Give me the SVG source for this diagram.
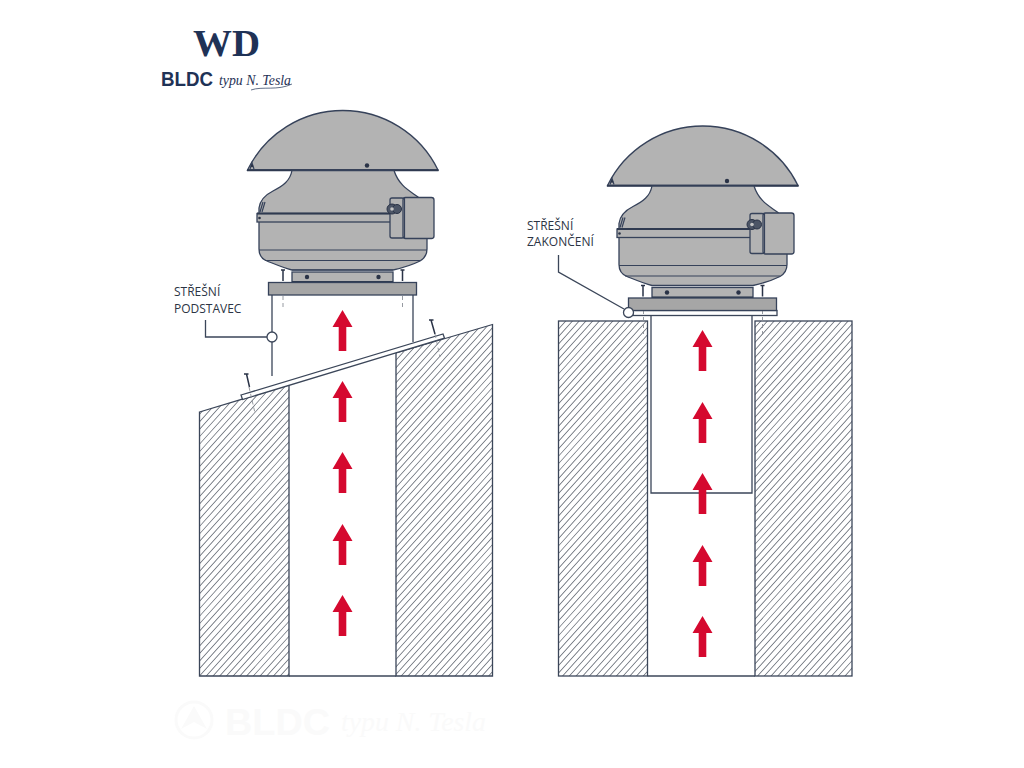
<svg xmlns="http://www.w3.org/2000/svg" width="1024" height="768" viewBox="0 0 1024 768">
<style>
.o{stroke:#3b4659;stroke-width:1.3;fill:none}
.w{stroke:#3b4659;stroke-width:1.3;fill:#fff}
.hs{fill:none;stroke:#666c76;stroke-width:900;stroke-dasharray:.8 4.200}
.g{fill:#b3b3b3;stroke:#36425a;stroke-width:1.300}
.gd{fill:#a6a6a6;stroke:#36425a;stroke-width:1.300}
.l{fill:none;stroke:#36425a;stroke-width:1.200}
.t{fill:none;stroke:#2f3a50;stroke-width:2}
.k{fill:#2a3347}
.d{fill:none;stroke:#8a8f96;stroke-width:.9;stroke-dasharray:4 3}
.lab{font-family:"Open Sans","Liberation Sans",sans-serif;font-size:12px;fill:#2c3444}
.wm{fill:#fafafa}
</style>
<defs>
<clipPath id="walls">
<path d="M199.500 412L289 385V676H199.500Z"/>
<path d="M396 353L492.500 324.500V676H396Z"/>
<rect x="558.500" y="321" width="89" height="355"/>
<rect x="755" y="321" width="97" height="355"/>
</clipPath>
<path id="arrow" d="M0 0L10 17H3.800V41H-3.800V17H-10Z" fill="#d5092f"/>
<g id="screw">
<path d="M-2 0H2M0 0V11" fill="none" stroke="#2a3347" stroke-width="1.500"/>
</g>
<g id="fan">
<path class="g" d="M247.500 170A106 106 0 0 1 438 170Z"/>
<path class="t" d="M247 170.200H438.500"/>
<circle class="k" cx="367" cy="165.500" r="2.200"/>
<path class="l" d="M250 169L252 163L254 169"/>
<circle class="k" cx="252" cy="166" r="1.200"/>
<path class="g" d="M292 170.500C290 181 283 186 273 191C265 195 260 200 259 208V249C259 255 262 259 267 261C277 265 284 268 292 270H393C402 268 412 265 420 261C425 258 427 254 427 249V222L418 197C410 191 399 186 394 170.500Z"/>
<path class="l" d="M259 250H427M265 260.500H420M292 270H393"/>
<rect class="g" x="257" y="213.500" width="134" height="8.500"/>
<path class="t" d="M257 213.500H391"/>
<path class="l" d="M260 212L263 202M262 212L265 202"/>
<circle class="k" cx="259.500" cy="218" r="1.300"/>
<rect class="g" x="292" y="272" width="101" height="10"/>
<path class="t" d="M292 282H393"/>
<circle class="k" cx="307" cy="277" r="2.200"/>
<circle class="k" cx="378.500" cy="277" r="2.200"/>
<rect class="g" x="390" y="198" width="14" height="40" rx="2"/>
<rect class="g" x="403" y="197.500" width="31" height="41" rx="2.500" stroke-width="1.700"/>
<path class="l" d="M404.500 198V238"/>
<circle cx="392" cy="209" r="5" fill="#4c5566" stroke="#2a3347"/>
<circle cx="397" cy="209" r="4.500" fill="#4c5566" stroke="#2a3347"/>
<circle cx="392" cy="209" r="1.800" fill="#c5c5c5"/>
<use href="#screw" x="283" y="270"/>
<use href="#screw" x="402.500" y="270"/>
<rect class="gd" x="268.500" y="282.500" width="148" height="12.500"/>
</g>
</defs>
<rect width="1024" height="768" fill="#fff"/>

<g id="logo">
<text x="226.500" y="56" text-anchor="middle" font-family="'Liberation Serif',serif" font-weight="700" font-size="38" fill="#1f3256" textLength="67" lengthAdjust="spacingAndGlyphs">WD</text>
<text x="161" y="86" font-family="'Liberation Sans',sans-serif" font-weight="700" font-size="19.500" fill="#1f3256" textLength="52" lengthAdjust="spacingAndGlyphs">BLDC</text>
<text x="219" y="85" font-family="'Liberation Serif',serif" font-style="italic" font-size="14" fill="#1f3256" textLength="72" lengthAdjust="spacingAndGlyphs">typu N. Tesla</text>
<path d="M251 90C262 86 278 91 292 84" fill="none" stroke="#1f3256" stroke-width=".7"/>
</g>

<g id="watermark">
<circle cx="194" cy="720" r="18" fill="none" stroke="#fafafa" stroke-width="3"/>
<path class="wm" d="M194 706L207 729L194 722L181 729Z"/>
<text x="225" y="735" font-family="'Liberation Sans',sans-serif" font-weight="700" font-size="37" class="wm" textLength="105" lengthAdjust="spacingAndGlyphs">BLDC</text>
<text x="341" y="731" font-family="'Liberation Serif',serif" font-style="italic" font-size="27" class="wm" textLength="145" lengthAdjust="spacingAndGlyphs">typu N. Tesla</text>
</g>

<g id="hatching" clip-path="url(#walls)">
<path class="hs" d="M79 99L971 901"/>
</g>
<g id="left-roof">
<path class="o" d="M199.500 412L289 385V676H199.500Z"/>
<path class="o" d="M396 353L492.500 324.500V676H396Z"/>
<path class="o" d="M289 676H396"/>
</g>
<g id="left-base">
<path class="o" d="M272 295V376M413 295V342"/>
<path class="w" d="M241 395L443 334L444.500 338L242.500 399.500Z"/>
<path class="d" d="M283 282V308M402.500 282V308M249 387L255 413M435 334L440 357"/>
<path d="M244 374H248.500M246.500 374L249.500 387M429 320H433.500M431 320L435 334" fill="none" stroke="#2a3347" stroke-width="1.500"/>
</g>
<use id="left-fan" href="#fan"/>
<g id="left-arrows">
<use href="#arrow" x="342.500" y="310"/>
<use href="#arrow" x="342.500" y="381"/>
<use href="#arrow" x="342.500" y="452"/>
<use href="#arrow" x="342.500" y="524"/>
<use href="#arrow" x="342.500" y="595"/>
</g>
<g id="left-label">
<text class="lab" x="174" y="295.500">STŘEŠNÍ</text>
<text class="lab" x="174" y="312.500">PODSTAVEC</text>
</g>

<g id="right-roof">
<rect class="o" x="558.500" y="321" width="89" height="355"/>
<rect class="o" x="755" y="321" width="97" height="355"/>
<path class="o" d="M647.500 676H755"/>
</g>
<g id="right-base">
<path class="o" d="M651 315V493H752V315"/>
<rect class="w" x="633" y="310.500" width="144" height="5"/>
<path class="d" d="M643.500 310V334M762.500 310V335"/>
</g>
<use id="right-fan" href="#fan" x="360" y="15.500"/>
<g id="right-arrows">
<use href="#arrow" x="702.500" y="330"/>
<use href="#arrow" x="702.500" y="402"/>
<use href="#arrow" x="702.500" y="473"/>
<use href="#arrow" x="702.500" y="545"/>
<use href="#arrow" x="702.500" y="616"/>
</g>
<g id="right-label">
<text class="lab" x="527" y="230">STŘEŠNÍ</text>
<text class="lab" x="527" y="246">ZAKONČENÍ</text>
</g>

<g id="connectors">
<path class="o" d="M205.500 320V337H267"/>
<circle class="w" cx="272" cy="337" r="5"/>
<path class="o" d="M558.500 255V272L624 309"/>
<circle class="w" cx="628.500" cy="312.500" r="5"/>
</g>
</svg>
